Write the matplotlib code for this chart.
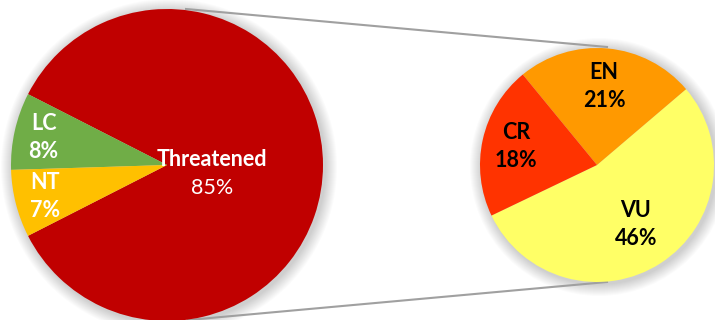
import matplotlib
matplotlib.use('Agg')
import matplotlib.pyplot as plt
import numpy as np
from matplotlib.patches import Circle

plt.rcParams['font.family'] = ['Lato', 'DejaVu Sans']

# overall split of assessed species
main_labels = ['Threatened', 'LC', 'NT']
main_values = [85, 8, 7]
main_colors = ['#C00000', '#70AD47', '#FFC000']

# breakdown of the threatened share
sub_labels = ['VU', 'EN', 'CR']
sub_values = [46, 21, 18]
sub_colors = ['#FFFF66', '#FF9900', '#FF3300']

W, H = 715, 320
fig = plt.figure(figsize=(W / 100, H / 100), dpi=100)
ax = fig.add_axes([0, 0, 1, 1])

big_c, big_r = (167, 155), 156
small_c, small_r = (597, 155), 117


def soft_shadow(center, r):
    # stack of faint rings to fake the blurred drop shadow
    for k in range(12, 0, -1):
        ax.add_patch(Circle((center[0] + 2, center[1] - 2), r + k,
                            color='#000000', alpha=0.016, lw=0, zorder=0))


soft_shadow(big_c, big_r)
soft_shadow(small_c, small_r)

# connector lines between the two pies
ax.plot([186, 607], [311, 273], color='#A0A0A0', lw=1.5, zorder=1)
ax.plot([188, 607], [0, 38], color='#A0A0A0', lw=1.5, zorder=1)

big_start = -main_values[0] / sum(main_values) * 360 / 2
wedges, _ = ax.pie(main_values, colors=main_colors, center=big_c, radius=big_r,
                   startangle=big_start, counterclock=True, frame=True,
                   wedgeprops=dict(linewidth=0))

small_start = -154.4
swedges, _ = ax.pie(sub_values, colors=sub_colors, center=small_c, radius=small_r,
                    startangle=small_start, counterclock=True, frame=True,
                    wedgeprops=dict(linewidth=0))
ax.set_xlim(0, W)
ax.set_ylim(0, H)
ax.set_aspect('equal')
ax.axis('off')


def place_labels(wedges, labels, values, total, center, r, dists, offsets,
                 color, pct_bold):
    for w, lab, v, d, (dx, dy), pb in zip(wedges, labels, values, dists,
                                          offsets, pct_bold):
        ang = np.deg2rad((w.theta1 + w.theta2) / 2)
        x = center[0] + d * r * np.cos(ang) + dx
        y = center[1] + d * r * np.sin(ang) + dy
        pct = f'{round(v / total * 100)}%'
        ax.text(x, y + 14, lab, ha='center', va='center', color=color,
                fontsize=15.5, fontweight='bold', zorder=5)
        ax.text(x, y - 14, pct, ha='center', va='center', color=color,
                fontsize=15.5, fontweight='bold' if pb else 'normal', zorder=5)


place_labels(wedges, main_labels, main_values, 100, big_c, big_r,
             [0.27, 0.81, 0.81], [(3, -9), (0, 0), (0, 0)], 'white',
             [False, True, True])
place_labels(swedges, sub_labels, sub_values, 100, small_c, small_r,
             [0.61, 0.67, 0.71], [(0, 0), (0, 0), (0, 0)], 'black',
             [True, True, True])

fig.savefig('out.png', dpi=100, facecolor='white')
